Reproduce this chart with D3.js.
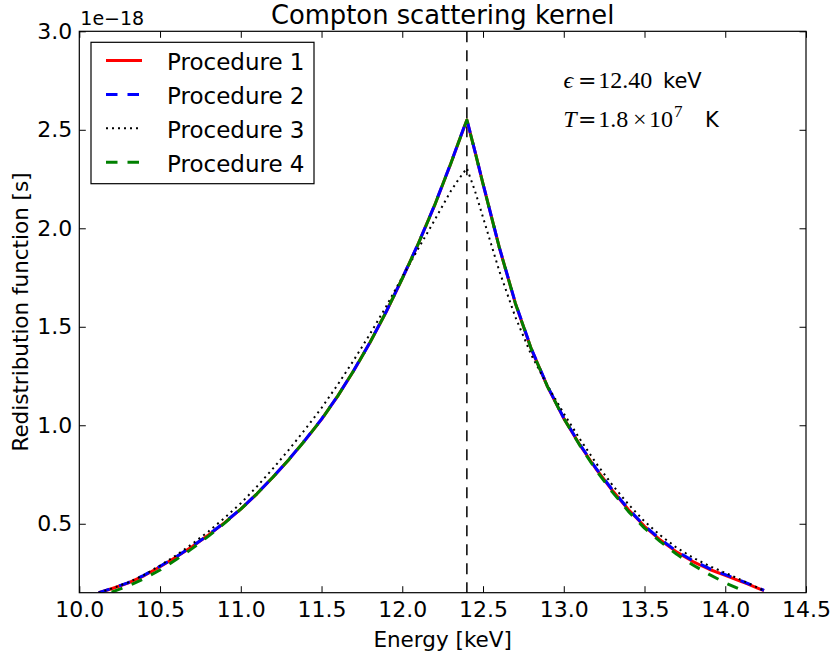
<!DOCTYPE html>
<html>
<head>
<meta charset="utf-8">
<script src="https://cdn.jsdelivr.net/npm/d3@7"></script>
<style>
  html, body { margin: 0; padding: 0; background: #fff; }
  svg { display: block; }
</style>
</head>
<body>
<script>
// ---------- data ----------
const energy = [10.12,10.2,10.3,10.4,10.5,10.6,10.7,10.8,10.9,11.0,11.1,11.2,11.3,11.4,11.5,11.6,11.7,11.8,11.9,12.0,12.1,12.2,12.3,12.35,12.4,12.45,12.5,12.55,12.6,12.7,12.8,12.9,13.0,13.1,13.2,13.3,13.4,13.5,13.6,13.7,13.8,13.9,14.0,14.1,14.13,14.2,14.24];

const procedure1 = [0.150,0.170,0.199,0.236,0.282,0.331,0.385,0.443,0.506,0.574,0.652,0.737,0.828,0.926,1.030,1.148,1.278,1.420,1.575,1.745,1.923,2.116,2.328,2.440,2.550,2.390,2.225,2.065,1.905,1.620,1.385,1.195,1.035,0.900,0.778,0.670,0.572,0.487,0.416,0.356,0.308,0.269,0.238,0.206,0.197,0.173,0.160];

const procedure2 = [0.150,0.171,0.200,0.238,0.284,0.332,0.386,0.444,0.507,0.575,0.653,0.738,0.829,0.927,1.031,1.149,1.279,1.421,1.576,1.746,1.924,2.117,2.329,2.441,2.552,2.391,2.226,2.066,1.906,1.622,1.387,1.197,1.037,0.902,0.781,0.673,0.575,0.490,0.420,0.360,0.312,0.273,0.242,0.210,0.200,0.176,0.162];

const procedure3 = [0.150,0.171,0.201,0.240,0.288,0.340,0.398,0.461,0.530,0.604,0.689,0.781,0.878,0.981,1.088,1.206,1.331,1.463,1.603,1.753,1.898,2.041,2.188,2.250,2.305,2.190,2.055,1.920,1.785,1.550,1.355,1.200,1.060,0.930,0.808,0.698,0.599,0.512,0.440,0.378,0.328,0.286,0.251,0.214,0.203,0.176,0.160];

const procedure4 = [null,0.153,0.183,0.221,0.265,0.318,0.375,0.437,0.503,0.574,0.652,0.737,0.828,0.926,1.030,1.148,1.278,1.420,1.575,1.745,1.923,2.116,2.328,2.440,2.550,2.390,2.225,2.065,1.905,1.620,1.385,1.195,1.035,0.897,0.772,0.662,0.563,0.478,0.408,0.345,0.291,0.243,0.200,0.164,0.155,null,null];

const seriesNames = ["Procedure 1","Procedure 2","Procedure 3","Procedure 4"];
const xTicks = [10.0,10.5,11.0,11.5,12.0,12.5,13.0,13.5,14.0,14.5];
const yTicks = [0.5,1.0,1.5,2.0,2.5,3.0];
const xDomain = [10.0, 14.5];
const yDomain = [0.15, 3.0];
const incidentEnergy = 12.40;

// ---------- layout ----------
const W = 832, H = 657;
const L = 79.3, R = 806, T = 31.3, B = 592.7;
const sans = "'DejaVu Sans', sans-serif";
const serif = "'Liberation Serif', 'DejaVu Serif', serif";

const svg = d3.select("body").append("svg").attr("width", W).attr("height", H);

const x = d3.scaleLinear().domain(xDomain).range([L, R]);
const y = d3.scaleLinear().domain(yDomain).range([B, T]);

svg.append("defs").append("clipPath").attr("id","clip")
  .append("rect").attr("x", L).attr("y", T).attr("width", R - L).attr("height", B - T);

// vertical dashed line at incident energy
svg.append("line")
  .attr("x1", x(incidentEnergy)).attr("x2", x(incidentEnergy))
  .attr("y1", T).attr("y2", B)
  .attr("stroke", "#000").attr("stroke-width", 1.5)
  .attr("stroke-dasharray", "11,8");

// series
const styles = [
  {data: procedure1, color: "#ff0000", width: 3, dash: null},
  {data: procedure2, color: "#0000ff", width: 3, dash: "11.5,10"},
  {data: procedure3, color: "#000000", width: 2, dash: "2,4"},
  {data: procedure4, color: "#008000", width: 3, dash: "11.5,10"}
];

const line = d3.line()
  .defined(d => d[1] !== null)
  .x(d => x(d[0]))
  .y(d => y(d[1]));

const plotG = svg.append("g").attr("clip-path", "url(#clip)");
styles.forEach(s => {
  const pts = energy.map((e, i) => [e, s.data[i]]);
  plotG.append("path")
    .attr("d", line(pts))
    .attr("fill", "none")
    .attr("stroke", s.color)
    .attr("stroke-width", s.width)
    .attr("stroke-dasharray", s.dash)
    .attr("stroke-linejoin", "round");
});

// axes
const fmt = d3.format(".1f");
const gx = svg.append("g").attr("transform", `translate(0,${B})`)
  .call(d3.axisBottom(x).tickValues(xTicks).tickFormat(fmt).tickSizeInner(-6.5).tickSizeOuter(0).tickPadding(9));
const gxt = svg.append("g").attr("transform", `translate(0,${T})`)
  .call(d3.axisTop(x).tickValues(xTicks).tickFormat("").tickSizeInner(-6.5).tickSizeOuter(0));
const gy = svg.append("g").attr("transform", `translate(${L},0)`)
  .call(d3.axisLeft(y).tickValues(yTicks).tickFormat(fmt).tickSizeInner(-6.5).tickSizeOuter(0).tickPadding(7));
const gyr = svg.append("g").attr("transform", `translate(${R},0)`)
  .call(d3.axisRight(y).tickValues(yTicks).tickFormat("").tickSizeInner(-6.5).tickSizeOuter(0));

[gx, gxt, gy, gyr].forEach(g => {
  g.select(".domain").remove();
  g.selectAll(".tick line").attr("stroke", "#000").attr("stroke-width", 1);
  g.selectAll(".tick text").attr("fill", "#000").style("font-family", sans).style("font-size", "22px");
});

// frame
svg.append("rect").attr("x", L).attr("y", T).attr("width", R - L).attr("height", B - T)
  .attr("fill", "none").attr("stroke", "#000").attr("stroke-width", 1.2);

// offset text
svg.append("text").attr("x", L + 1).attr("y", 25)
  .style("font-family", sans).style("font-size", "19px").text("1e\u221218");

// title
svg.append("text").attr("x", (L + R) / 2).attr("y", 23.5).attr("text-anchor", "middle")
  .style("font-family", sans).style("font-size", "25.8px").text("Compton scattering kernel");

// axis labels
svg.append("text").attr("x", (L + R) / 2).attr("y", 647).attr("text-anchor", "middle")
  .style("font-family", sans).style("font-size", "21.5px").text("Energy [keV]");
svg.append("text").attr("transform", `translate(28,${(T + B) / 2}) rotate(-90)`).attr("text-anchor", "middle")
  .style("font-family", sans).style("font-size", "21.5px").text("Redistribution function [s]");

// legend
const lg = svg.append("g");
lg.append("rect").attr("x", 91).attr("y", 42.3).attr("width", 223).attr("height", 141.4)
  .attr("fill", "#fff").attr("stroke", "#000").attr("stroke-width", 1.2);
styles.forEach((s, i) => {
  const yy = 60.5 + i * 33.9;
  lg.append("line").attr("x1", 106).attr("x2", 142).attr("y1", yy).attr("y2", yy)
    .attr("stroke", s.color).attr("stroke-width", s.width).attr("stroke-dasharray", s.dash);
  lg.append("text").attr("x", 167).attr("y", yy + 9.5)
    .style("font-family", sans).style("font-size", "23px").text(seriesNames[i]);
});

// annotation
const a1 = svg.append("text").attr("y", 88).style("font-size", "24px");
a1.append("tspan").attr("x", 563.5).style("font-family", serif).style("font-style", "italic").text("\u03F5");
a1.append("tspan").attr("x", 578).style("font-family", "'DejaVu Serif', serif").style("font-size", "22px").text("=");
a1.append("tspan").attr("x", 598.3).style("font-family", serif).text("12.40");
a1.append("tspan").attr("x", 663).style("font-family", sans).style("font-size", "21px").text("keV");

const a2 = svg.append("text").attr("y", 127).style("font-size", "24px");
a2.append("tspan").attr("x", 563.3).style("font-family", serif).style("font-style", "italic").text("T");
a2.append("tspan").attr("x", 578).style("font-family", "'DejaVu Serif', serif").style("font-size", "22px").text("=");
a2.append("tspan").attr("x", 598.3).style("font-family", serif).text("1.8");
a2.append("tspan").attr("x", 633).style("font-family", serif).text("\u00D7");
a2.append("tspan").attr("x", 649).style("font-family", serif).text("10");
a2.append("tspan").attr("x", 674).attr("dy", -10).style("font-family", serif).style("font-size", "17px").text("7");
a2.append("tspan").attr("x", 705).attr("dy", 10).style("font-family", sans).style("font-size", "21px").text("K");
</script>
</body>
</html>
